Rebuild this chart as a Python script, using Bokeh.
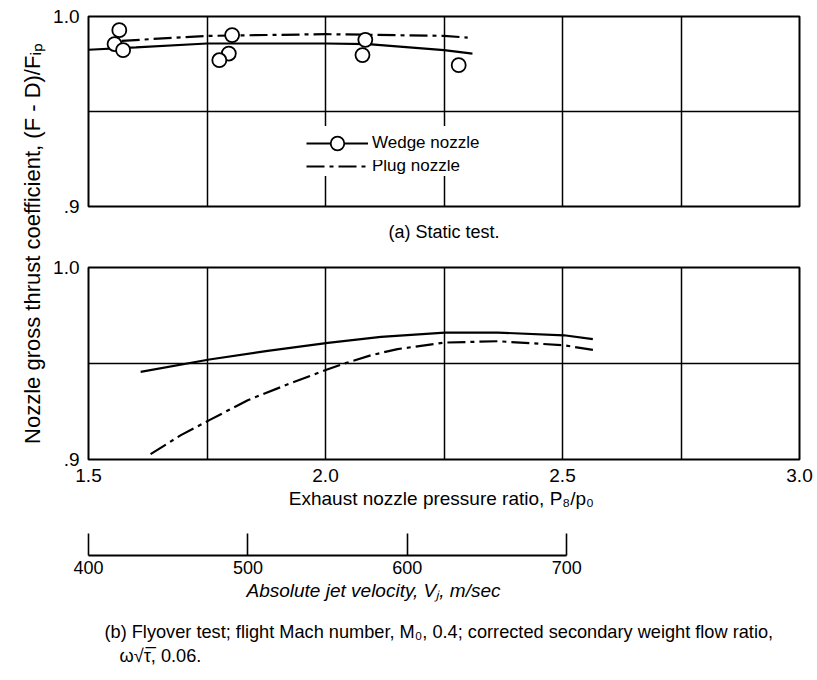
import math
from bokeh.plotting import figure
from bokeh.models import Range1d, FixedTicker, Grid, Legend, LegendItem, Title, Label, PrintfTickFormatter
from bokeh.layouts import column, row
from bokeh.embed import file_html
from bokeh.resources import INLINE

FONT = "Liberation Sans"

# ---------------- data ----------------
# (a) Static test
static_wedge_pts_x = [1.565, 1.555, 1.573, 1.803, 1.796, 1.776, 2.084, 2.078, 2.281]
static_wedge_pts_y = [0.9928, 0.9855, 0.9823, 0.9902, 0.9805, 0.9770, 0.9877, 0.9797, 0.9744]
static_wedge_curve_x = [1.50, 1.60, 1.75, 2.00, 2.09, 2.25, 2.31]
static_wedge_curve_y = [0.9825, 0.9837, 0.9858, 0.9858, 0.9855, 0.9823, 0.9805]
static_plug_curve_x = [1.57, 1.75, 2.00, 2.25, 2.30]
static_plug_curve_y = [0.9872, 0.9898, 0.9907, 0.9898, 0.9889]

# (b) Flyover test
flyover_wedge_x = [1.610, 1.755, 1.878, 2.005, 2.117, 2.252, 2.363, 2.503, 2.564]
flyover_wedge_y = [0.9456, 0.9521, 0.9566, 0.9607, 0.9639, 0.9661, 0.9661, 0.9647, 0.9627]
flyover_plug_x = [1.631, 1.695, 1.755, 1.836, 1.922, 2.005, 2.040, 2.096, 2.152, 2.252, 2.363, 2.503, 2.568]
flyover_plug_y = [0.9028, 0.9127, 0.9205, 0.9309, 0.9393, 0.9470, 0.9500, 0.9543, 0.9575, 0.9609, 0.9616, 0.9595, 0.9569]

# axes / ticks
pr_ticks = [1.5, 2.0, 2.5, 3.0]
pr_grid = [1.75, 2.0, 2.25, 2.5, 2.75]
cf_ticks = [0.9, 1.0]
cf_labels = {0.9: ".9", 1.0: "1.0"}
cf_grid = [0.95]
vel_ticks = [400, 500, 600, 700]

caption_1 = "(b) Flyover test; flight Mach number, M\u2080, 0.4; corrected secondary weight flow ratio,"
caption_2 = "\u03c9\u221a\u03c4\u0305, 0.06."

W_LABEL = 50
W_MAIN = 767
BL, BR = 37, 18                 # left / right borders of every panel (frames are aligned)
FRAME_W = W_MAIN - BL - BR
DASHDOT = "18 5 4 5"
common = dict(output_backend="svg", toolbar_location=None, width=W_MAIN,
              min_border_left=BL, min_border_right=BR)


def style_panel(p):
    p.xgrid.visible = False
    p.ygrid.visible = False
    p.outline_line_color = "black"
    p.outline_line_width = 2
    p.add_layout(Grid(dimension=0, ticker=FixedTicker(ticks=pr_grid),
                      grid_line_color="black", grid_line_width=1.5))
    p.add_layout(Grid(dimension=1, ticker=FixedTicker(ticks=cf_grid),
                      grid_line_color="black", grid_line_width=1.5))
    ya = p.yaxis[0]
    ya.ticker = FixedTicker(ticks=cf_ticks)
    ya.major_label_overrides = cf_labels
    ya.axis_line_color = None
    ya.major_tick_line_color = None
    ya.minor_tick_line_color = None
    ya.major_label_standoff = 3
    ya.major_label_text_font = FONT
    ya.major_label_text_font_size = "19px"
    ya.major_label_text_color = "black"


def make_legend(item, loc, gh):
    return Legend(items=[item], location=loc, glyph_width=62, glyph_height=gh,
                  padding=0, margin=0, label_standoff=4, label_height=16,
                  border_line_color=None, background_fill_color="white", background_fill_alpha=1,
                  label_text_font=FONT, label_text_font_size="17px", label_text_color="black")


# ---------------- top panel: static test ----------------
top = figure(height=256, x_range=Range1d(1.5, 3.0), y_range=Range1d(0.9, 1.0),
             x_axis_location=None, min_border_top=16, min_border_bottom=50, **common)
style_panel(top)
r_wl = top.line(static_wedge_curve_x, static_wedge_curve_y, line_color="black", line_width=2.2)
r_pl = top.line(static_plug_curve_x, static_plug_curve_y, line_color="black", line_width=2.2,
                line_dash=DASHDOT)
r_wp = top.scatter(static_wedge_pts_x, static_wedge_pts_y, marker="circle", size=14,
                   fill_color="white", line_color="black", line_width=1.8)
# two single-row legends so that the row pitch stays tight while the marker stays large
top.add_layout(make_legend(LegendItem(label="Plug nozzle", renderers=[r_pl]), (218, 30), 18))
top.add_layout(make_legend(LegendItem(label="Wedge nozzle", renderers=[r_wl, r_wp]), (218, 46), 34))
top.add_layout(Title(text="(a) Static test.", align="center", text_font=FONT, text_color="black",
                     text_font_size="18px", text_font_style="normal", standoff=26), "below")

# ---------------- bottom panel: flyover test ----------------
bot = figure(height=264, x_range=Range1d(1.5, 3.0), y_range=Range1d(0.9, 1.0),
             min_border_top=11, min_border_bottom=61, **common)
style_panel(bot)
bot.line(flyover_wedge_x, flyover_wedge_y, line_color="black", line_width=2.2)
bot.line(flyover_plug_x, flyover_plug_y, line_color="black", line_width=2.2, line_dash=DASHDOT)
xa = bot.xaxis[0]
xa.ticker = FixedTicker(ticks=pr_ticks)
xa.formatter = PrintfTickFormatter(format="%.1f")
xa.axis_line_color = None
xa.major_tick_line_color = None
xa.minor_tick_line_color = None
xa.major_label_standoff = 3
xa.major_label_text_font = FONT
xa.major_label_text_font_size = "19px"
xa.major_label_text_color = "black"
xa.axis_label = "Exhaust nozzle pressure ratio,  P\u2088/p\u2080"
xa.axis_label_standoff = 3
xa.axis_label_text_font = FONT
xa.axis_label_text_font_size = "19px"
xa.axis_label_text_font_style = "normal"
xa.axis_label_text_color = "black"

# ---------------- velocity scale ----------------
vel = figure(height=95, x_range=Range1d(400, 846), y_range=Range1d(0, 1),
             y_axis_location=None, min_border_top=5, min_border_bottom=60, **common)
vel.xgrid.visible = False
vel.ygrid.visible = False
vel.outline_line_color = None
va = vel.xaxis[0]
va.ticker = FixedTicker(ticks=vel_ticks)
va.bounds = (400, 700)
va.axis_line_width = 2.2
va.axis_line_color = "black"
va.major_tick_in = 22
va.major_tick_out = 0
va.major_tick_line_width = 1.6
va.major_tick_line_color = "black"
va.minor_tick_line_color = None
va.major_label_standoff = 5
va.major_label_text_font = FONT
va.major_label_text_font_size = "18px"
va.major_label_text_color = "black"
vel.add_layout(Title(text="Absolute jet velocity, V\u2c7c,   m/sec", align="left", offset=158,
                     text_font=FONT, text_font_size="19px", text_font_style="italic",
                     text_color="black", standoff=2), "below")

# ---------------- caption (b) ----------------
CAP_H = 680 - 256 - 264 - 95
cap = figure(width=W_MAIN, height=CAP_H, x_range=Range1d(0, FRAME_W), y_range=Range1d(0, CAP_H),
             min_border_left=BL, min_border_right=BR, min_border_top=0, min_border_bottom=0,
             x_axis_location=None, y_axis_location=None, output_backend="svg", toolbar_location=None)
cap.outline_line_color = None
cap.xgrid.visible = False
cap.ygrid.visible = False
for txt, x_px, y_px in [(caption_1, 16, CAP_H - 16), (caption_2, 31, CAP_H - 40)]:
    cap.add_layout(Label(x=x_px, y=y_px, text=txt, text_align="left", text_baseline="middle",
                         text_font=FONT, text_font_size="18.2px", text_color="black"))

# ---------------- shared y label ----------------
lab = figure(width=W_LABEL, height=680, x_range=Range1d(0, W_LABEL), y_range=Range1d(0, 680),
             min_border=0, x_axis_location=None, y_axis_location=None,
             output_backend="svg", toolbar_location=None)
lab.outline_line_color = None
lab.xgrid.visible = False
lab.ygrid.visible = False
lab.add_layout(Label(x=32, y=680 - 240, text="Nozzle gross thrust coefficient,  (F - D)/F\u1d62\u209a",
                     angle=math.pi / 2, text_align="center", text_baseline="middle",
                     text_font=FONT, text_font_size="22px", text_color="black"))

layout = row(lab, column(top, bot, vel, cap))
open("out.html", "w").write(file_html(layout, INLINE))
